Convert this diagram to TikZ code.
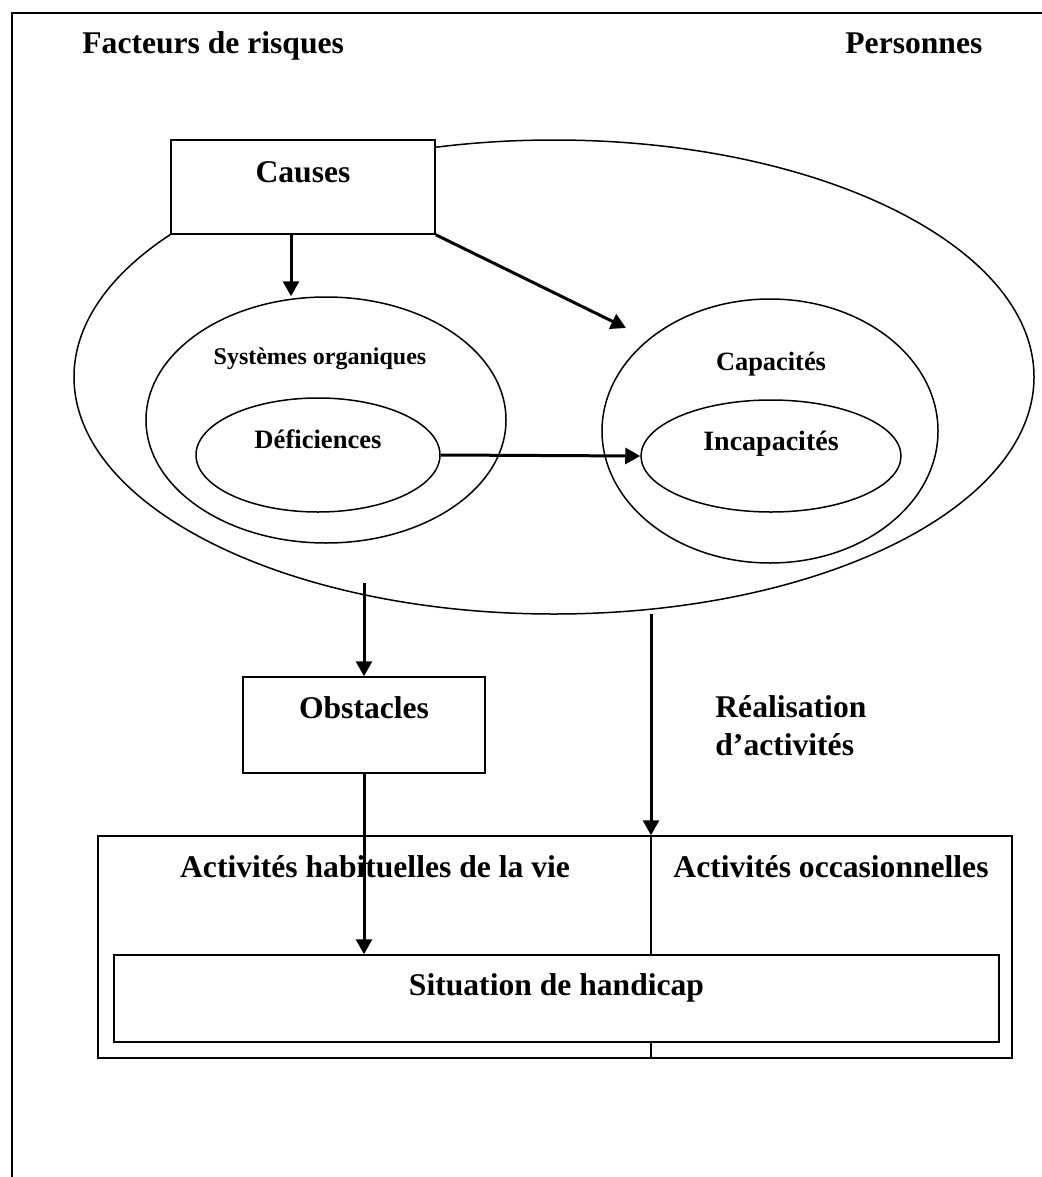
\documentclass[tikz,border=0pt]{standalone}
\usepackage{fontspec}
\setmainfont{Liberation Serif}
\usetikzlibrary{shapes,arrows.meta,positioning,calc}

\begin{document}
\begin{tikzpicture}[x=0.5pt, y=-0.5pt,
  titre/.style={font=\fontsize{15.8}{19}\selectfont\bfseries, inner sep=0pt},
  boite/.style={draw, line width=0.75pt, fill=white, inner sep=0pt, font=\fontsize{15.8}{19}\selectfont\bfseries},
  cercle/.style={ellipse, draw, line width=0.75pt, inner sep=0pt},
  fleche/.style={-{Triangle[length=7.5pt,width=8pt]}, line width=1.5pt}]

\useasboundingbox (0,0) rectangle (1042,1177);

% CADRE

\draw[line width=1pt] (12,1177) -- (12,13) -- (1042,13);

\node [titre, anchor=base west] at (82,54) (facteurs-titre) {Facteurs de risques};
\node [titre, anchor=base west] at (845,54) (personnes-titre) {Personnes};

% ELLIPSES

\node [cercle, minimum width=480pt, minimum height=237pt] at (554,377) (personnes) {};

\node [cercle, minimum width=180pt, minimum height=123pt] at (326,420) (systemes) {};
\node [inner sep=0pt, anchor=base, font=\fontsize{12}{14}\selectfont\bfseries] at (320,364) (systemes-titre) {Systèmes organiques};

\node [cercle, minimum width=122pt, minimum height=57pt] at (318,455) (deficiences) {};
\node [inner sep=0pt, anchor=base, font=\fontsize{13.3}{16}\selectfont\bfseries] at (318,448) (deficiences-titre) {Déficiences};

\node [cercle, minimum width=168pt, minimum height=132pt] at (770,431) (capacites) {};
\node [inner sep=0pt, anchor=base, font=\fontsize{13.2}{16}\selectfont\bfseries] at (771,370) (capacites-titre) {Capacités};

\node [cercle, minimum width=130pt, minimum height=56pt] at (771,456) (incapacites) {};
\node [inner sep=0pt, anchor=base, font=\fontsize{14}{17}\selectfont\bfseries] at (771,450) (incapacites-titre) {Incapacités};

% BOITES

\node [boite, anchor=base, minimum width=132pt, text height=21pt, text depth=26pt] at (303,182) (causes) {Causes};

\node [boite, anchor=base, minimum width=121pt, text height=20.5pt, text depth=27.5pt] at (364,718) (obstacles) {Obstacles};

\node [titre, anchor=base west, align=left] at (715,755) (realisation) {Réalisation\\d’activités};

\node [draw, line width=0.75pt, inner sep=0pt, minimum width=457pt, minimum height=111pt] at (555,947) (activites) {};
\node [titre, anchor=base] at (375,877) (habituelles) {Activités habituelles de la vie};
\node [titre, anchor=base] at (831,877) (occasionnelles) {Activités occasionnelles};

\coordinate (realisation-depart) at (651,614);
\draw[line width=0.75pt] (realisation-depart |- activites.north) -- (realisation-depart |- activites.south);

\node [boite, anchor=base, minimum width=442.5pt, text height=20pt, text depth=23.5pt] at (556.5,995) (situation) {Situation de handicap};

% FLECHES

\coordinate (capacites-pointe) at (626,328);
\coordinate (obstacles-depart) at (364,583);

\draw[fleche] ([xshift=-6pt]causes.south) -- ([xshift=-6pt]causes.south |- systemes.north);
\draw[fleche] (causes.south east) -- (capacites-pointe);
\draw[fleche] (deficiences.east) -- (incapacites.west);
\draw[fleche] (obstacles-depart) -- (obstacles.north);
\draw[fleche] (obstacles.south) -- (obstacles.south |- situation.north);
\draw[fleche] (realisation-depart) -- (realisation-depart |- activites.north);

\end{tikzpicture}
\end{document}
